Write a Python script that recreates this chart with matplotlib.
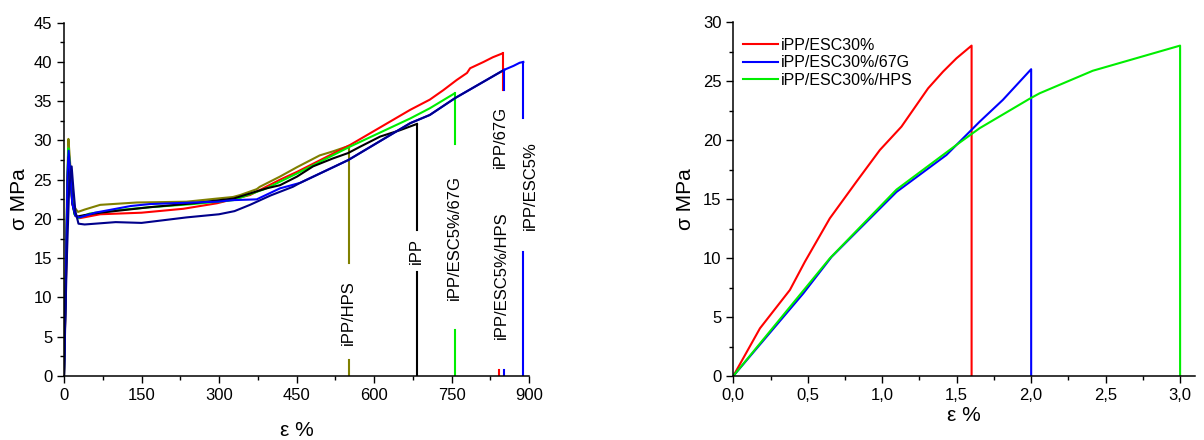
import numpy as np
import matplotlib
matplotlib.use("Agg")
import matplotlib.pyplot as plt
from matplotlib.ticker import MultipleLocator, FuncFormatter

plt.rcParams["font.family"] = ["Liberation Sans", "DejaVu Sans"]

nan = np.nan

# ---- left panel: long-strain tensile curves (strain %, stress MPa) ----
ipp_hps_x = [0, 3, 6, 8.5, 11, 15, 20, 27, 40, 70, 141, 237, 296, 327, 341, 373, 379, 418, 451, 495, 520, 551]
ipp_hps_y = [0, 12, 24, 30.2, 28, 24, 21.5, 20.9, 21.2, 21.8, 22.1, 22.2, 22.6, 22.8, 23.05, 23.8, 24.1, 25.4, 26.6, 28.1, 28.6, 29.3]

ipp_x = [0, 4, 7, 9, 12, 16, 21, 25, 40, 70, 166, 250, 328, 392, 418, 451, 482, 520, 550, 573, 612, 650, 683]
ipp_y = [0, 13, 25, 27.9, 26, 22, 20.6, 20.3, 20.5, 20.8, 21.5, 22.0, 22.6, 23.9, 24.3, 25.4, 26.7, 27.7, 28.4, 29.2, 30.5, 31.3, 32.1]

ipp_67g_x = [0, 4, 7, 9, 12, 16, 22, 30, 70, 150, 231, 296, 360, 418, 451, 553, 670, 708, 734, 760, 780, 786, 812, 830, 849]
ipp_67g_y = [0, 13, 25, 27.9, 26, 22, 20.4, 20.1, 20.6, 20.8, 21.3, 22.0, 23.05, 25.0, 26.0, 29.4, 33.9, 35.2, 36.4, 37.7, 38.6, 39.2, 40.0, 40.6, 41.1]

esc5_67g_x = [0, 4, 7, 8.5, 11, 15, 20, 27, 50, 100, 166, 250, 328, 392, 418, 451, 553, 670, 708, 756]
esc5_67g_y = [0, 14, 26, 29.0, 27, 23, 20.6, 20.1, 20.7, 21.1, 21.5, 21.9, 22.4, 23.9, 24.75, 25.8, 29.2, 32.8, 34.1, 36.0]

esc5_x = [0, 4, 7, 9, 12, 16, 22, 30, 60, 129, 166, 296, 327, 373, 418, 457, 550, 670, 708, 757, 852, 870, 882, 889]
esc5_y = [0, 14, 26, 28.7, 26, 22, 20.4, 20.2, 20.8, 21.65, 21.9, 22.2, 22.4, 22.5, 23.9, 24.6, 27.5, 32.2, 33.25, 35.4, 39.0, 39.5, 39.9, 40.0]

esc5_hps_x = [0, 5, 10, 14.8, 18, 22, 28, 40, 60, 100, 150, 237, 300, 330, 360, 400, 443, 457, 550, 670, 708, 757, 852]
esc5_hps_y = [0, 14, 24, 26.7, 24, 21, 19.4, 19.3, 19.4, 19.6, 19.5, 20.2, 20.6, 21.0, 21.8, 23.0, 24.1, 24.6, 27.5, 32.2, 33.25, 35.4, 39.0]

# fracture drops (gaps where the labels sit)
ipp_hps_drop_x = [551, 551, nan, 551, 551]
ipp_hps_drop_y = [29.3, 14.35, nan, 2.0, 0]
ipp_drop_x = [683, 683, nan, 683, 683]
ipp_drop_y = [32.1, 18.6, nan, 13.3, 0]
ipp_67g_drop_x = [849, 849, nan, 841, 841]
ipp_67g_drop_y = [41.1, 36.4, nan, 0.8, 0]
esc5_67g_drop_x = [756, 756, nan, 756, 756]
esc5_67g_drop_y = [36.0, 29.6, nan, 5.9, 0]
esc5_drop_x = [889, 889, nan, 889, 889]
esc5_drop_y = [40.0, 32.8, nan, 15.8, 0]
esc5_hps_drop_x = [852, 852, nan, 852, 852]
esc5_hps_drop_y = [39.0, 36.4, nan, 0.8, 0]

left_names = ["iPP/HPS", "iPP", "iPP/ESC5%/67G", "iPP/ESC5%/HPS", "iPP/67G", "iPP/ESC5%"]
left_label_x = [550, 682, 755, 847, 845, 903]
left_label_y = [8.1, 15.95, 17.7, 12.8, 30.4, 24.2]

# ---- right panel: ESC30% composites ----
esc30_x = [0, 0.179, 0.38, 0.481, 0.648, 0.827, 0.984, 1.129, 1.308, 1.408, 1.498, 1.6, 1.6]
esc30_y = [0, 4.04, 7.29, 9.69, 13.36, 16.47, 19.15, 21.13, 24.38, 25.79, 26.92, 28.0, 0]
esc30_67g_x = [0, 0.47, 0.66, 1.096, 1.431, 1.654, 1.81, 2.0, 2.0]
esc30_67g_y = [0, 7.0, 10.1, 15.6, 18.73, 21.55, 23.4, 26.0, 0]
esc30_hps_x = [0, 0.648, 1.096, 1.498, 1.654, 1.99, 2.057, 2.414, 3.0, 3.0]
esc30_hps_y = [0, 9.97, 15.8, 19.58, 21.0, 23.5, 23.96, 25.87, 28.0, 0]
right_names = ["iPP/ESC30%", "iPP/ESC30%/67G", "iPP/ESC30%/HPS"]

red, blue, green, black, olive, navy = "#ff0000", "#0000ff", "#00ee00", "#000000", "#808000", "#00008b"

fig = plt.figure(figsize=(12.04, 4.4), dpi=100)
ax1 = fig.add_axes([0.05316, 0.14545, 0.38621, 0.80295])
ax2 = fig.add_axes([0.60905, 0.14545, 0.38347, 0.80455])

lw = 1.5
ax1.plot(ipp_hps_x, ipp_hps_y, color=olive, lw=lw)
ax1.plot(ipp_hps_drop_x, ipp_hps_drop_y, color=olive, lw=lw)
ax1.plot(ipp_67g_x, ipp_67g_y, color=red, lw=lw)
ax1.plot(ipp_67g_drop_x, ipp_67g_drop_y, color=red, lw=lw)
ax1.plot(esc5_67g_x, esc5_67g_y, color=green, lw=lw)
ax1.plot(esc5_67g_drop_x, esc5_67g_drop_y, color=green, lw=lw)
ax1.plot(ipp_x, ipp_y, color=black, lw=lw)
ax1.plot(ipp_drop_x, ipp_drop_y, color=black, lw=lw)
ax1.plot(esc5_x, esc5_y, color=blue, lw=lw)
ax1.plot(esc5_drop_x, esc5_drop_y, color=blue, lw=lw)
ax1.plot(esc5_hps_x, esc5_hps_y, color=navy, lw=lw)
ax1.plot(esc5_hps_drop_x, esc5_hps_drop_y, color=blue, lw=lw)

for name, lx, ly in zip(left_names, left_label_x, left_label_y):
    ax1.text(lx, ly, name, rotation=90, ha="center", va="center", fontsize=12)

ax1.set_xlim(0, 900)
ax1.set_ylim(0, 45)
ax1.xaxis.set_major_locator(MultipleLocator(150))
ax1.xaxis.set_minor_locator(MultipleLocator(75))
ax1.yaxis.set_major_locator(MultipleLocator(5))
ax1.yaxis.set_minor_locator(MultipleLocator(2.5))
ax1.set_xlabel("ε %", fontsize=15, labelpad=13)
ax1.set_ylabel("σ MPa", fontsize=15, labelpad=3)

ax2.plot(esc30_x, esc30_y, color=red, lw=lw, label=right_names[0])
ax2.plot(esc30_67g_x, esc30_67g_y, color=blue, lw=lw, label=right_names[1])
ax2.plot(esc30_hps_x, esc30_hps_y, color=green, lw=lw, label=right_names[2])
ax2.set_xlim(0, 3.1)
ax2.set_ylim(0, 30)
ax2.xaxis.set_major_locator(MultipleLocator(0.5))
ax2.xaxis.set_minor_locator(MultipleLocator(0.25))
ax2.yaxis.set_major_locator(MultipleLocator(5))
ax2.yaxis.set_minor_locator(MultipleLocator(2.5))
ax2.xaxis.set_major_formatter(FuncFormatter(lambda v, p: f"{v:.1f}".replace(".", ",")))
ax2.set_xlabel("ε %", fontsize=15, labelpad=2)
ax2.set_ylabel("σ MPa", fontsize=15, labelpad=6)
ax2.legend(loc="upper left", bbox_to_anchor=(0.02, 0.955), frameon=False, fontsize=11.5,
           handlelength=2.2, handletextpad=0.2, labelspacing=0.15, borderpad=0, borderaxespad=0)

for ax in (ax1, ax2):
    ax.spines["top"].set_visible(False)
    ax.spines["right"].set_visible(False)
    ax.spines["left"].set_linewidth(1.1)
    ax.spines["bottom"].set_linewidth(1.1)
    ax.tick_params(which="major", direction="out", length=5, width=1, labelsize=12)
    ax.tick_params(which="minor", direction="out", length=3, width=1)

fig.savefig("out.png", dpi=100)
